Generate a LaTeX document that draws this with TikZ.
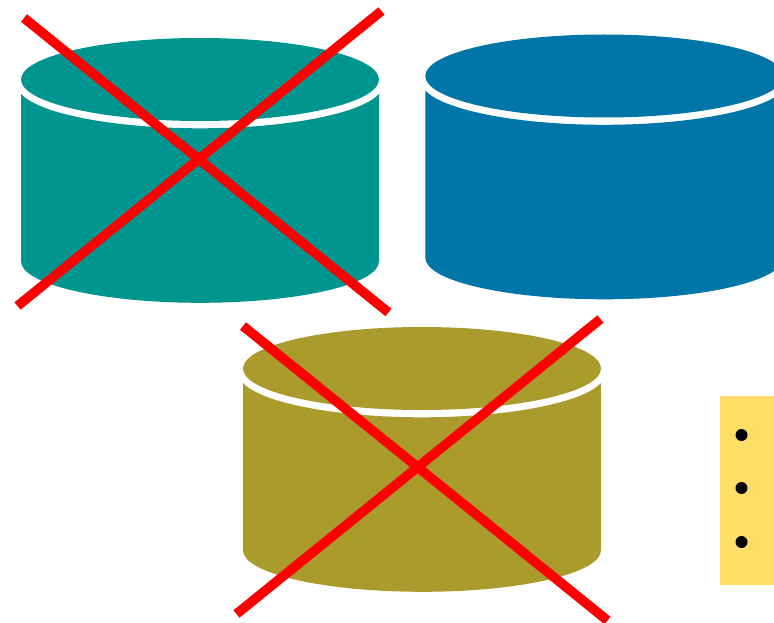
\documentclass[tikz,border=0pt]{standalone}
\definecolor{tealc}{HTML}{00968F}
\definecolor{bluec}{HTML}{0076A8}
\definecolor{olivec}{HTML}{AB9B2D}
\definecolor{yellowc}{HTML}{FFDE68}
\tikzset{
  crossline/.style={draw=red,line width=9.6pt},
  bulletdot/.style={fill=black}
}
% #1 dx, #2 dy, #3 colour
\newcommand{\drum}[3]{%
  \begin{scope}[shift={(#1,#2)}]
    \fill[#3] (21,94) .. controls (39.1,113.8) and (113.7,128.3) .. (200,128.3)
      .. controls (286.3,128.3) and (360.9,113.8) .. (379,94)
      -- (379,261.3) .. controls (379,284.2) and (298.9,302.8) .. (200,302.8)
      .. controls (101.1,302.8) and (21,284.2) .. (21,261.3) -- cycle;
    \fill[#3] (21,79.5) .. controls (21,56.6) and (101.1,38) .. (200,38)
      .. controls (298.9,38) and (379,56.6) .. (379,79.5)
      .. controls (379,102.4) and (298.9,121) .. (200,121)
      .. controls (101.1,121) and (21,102.4) .. (21,79.5) -- cycle;
  \end{scope}}
\newcommand{\crossout}[2]{%
  \begin{scope}[shift={(#1,#2)}]
    \coordinate (p1) at (24,18);
    \coordinate (p2) at (388.5,312.5);
    \coordinate (p3) at (381.5,11);
    \coordinate (p4) at (17.5,306);
    \draw[crossline] (p1) -- (p2);
    \draw[crossline] (p3) -- (p4);
  \end{scope}}
\begin{document}
\begin{tikzpicture}[x=1pt,y=-1pt]
  \useasboundingbox (0,0) rectangle (774,623);
  \clip (0,0) rectangle (774,623);
  \fill[white] (0,0) rectangle (774,623);
  \drum{0}{0}{tealc}
  \drum{404.3}{-3.5}{bluec}
  \drum{222}{289}{olivec}
  \crossout{0}{0}
  \crossout{219}{308}
  \fill[yellowc] (720,396) rectangle (774,585);
  \fill[bulletdot] (741.5,435) circle (6);
  \fill[bulletdot] (741.5,488) circle (6);
  \fill[bulletdot] (741.5,542) circle (6);
\end{tikzpicture}
\end{document}
